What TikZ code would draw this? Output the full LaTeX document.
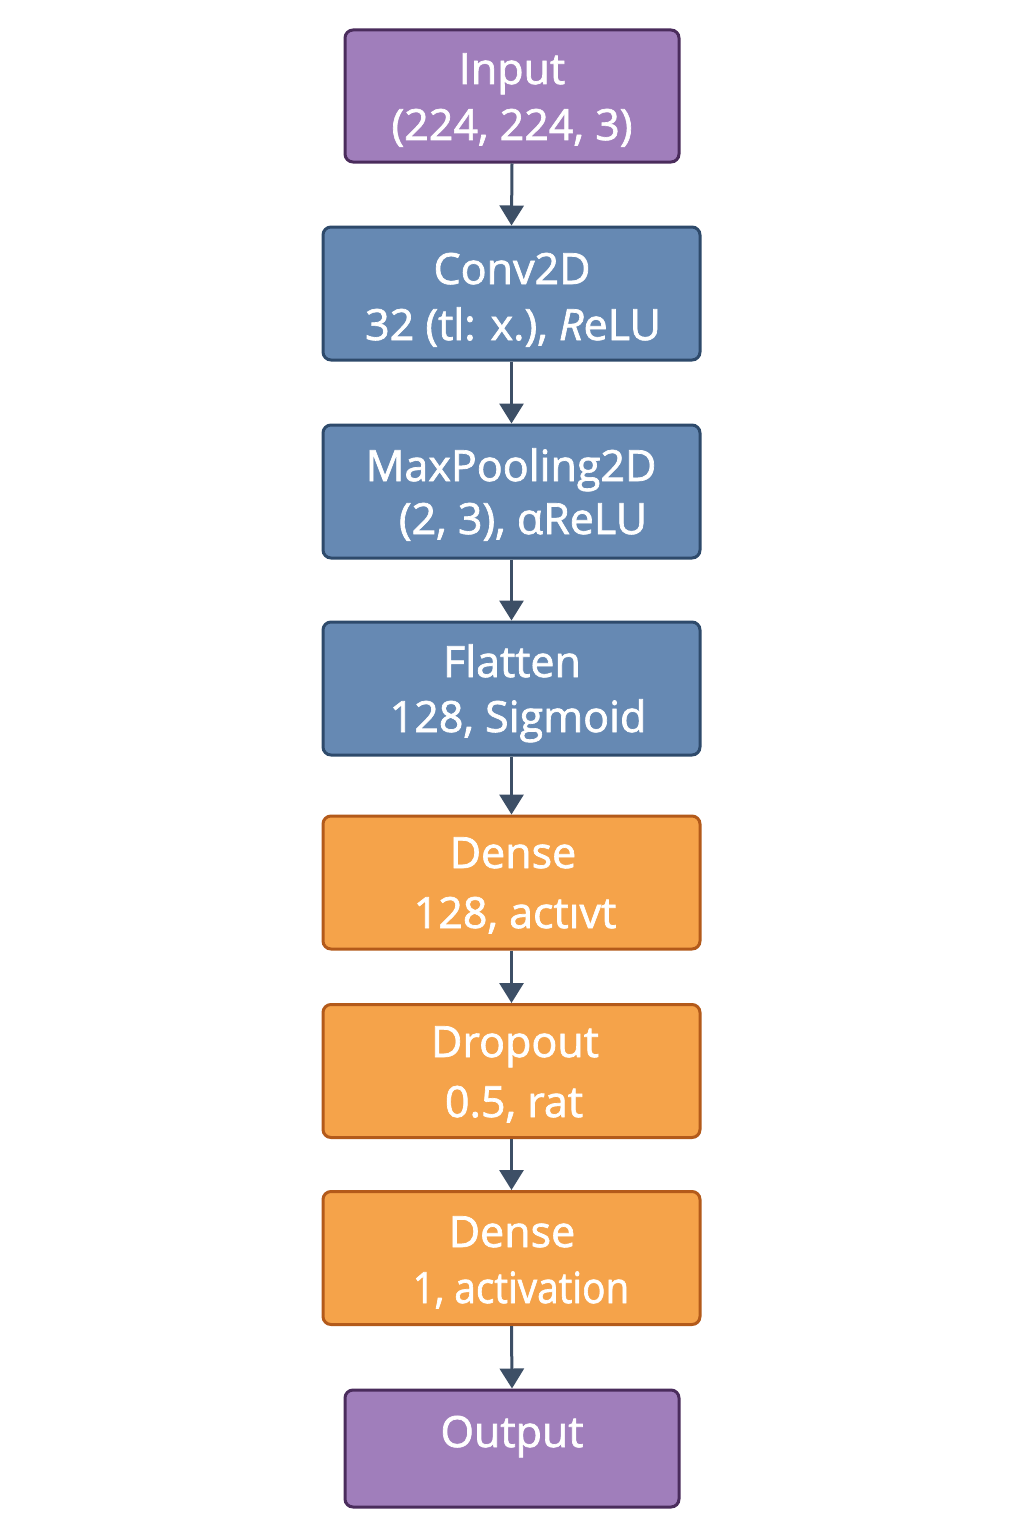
\documentclass[tikz,border=0pt]{standalone}
\usepackage{fontspec}
\setmainfont{Open Sans}
\newfontfamily\lblfont{Open Sans}[FakeBold=1.6]
\usetikzlibrary{arrows.meta}
\definecolor{purpfill}{HTML}{A07EBB}
\definecolor{purpline}{HTML}{4A2C5C}
\definecolor{bluefill}{HTML}{6689B3}
\definecolor{blueline}{HTML}{2E4A6B}
\definecolor{orfill}{HTML}{F5A34A}
\definecolor{orline}{HTML}{B35A1A}
\definecolor{arrowcol}{HTML}{3D4F66}
\tikzset{
  layer/.style={draw, line width=1.5pt, rounded corners=4pt, inner sep=0pt},
  wide/.style={layer, minimum width=188.5pt},
  narrow/.style={layer, minimum width=167pt},
  purplebox/.style={narrow, fill=purpfill, draw=purpline, minimum height=66pt},
  bluebox/.style={wide, fill=bluefill, draw=blueline, minimum height=66.5pt},
  orangebox/.style={wide, fill=orfill, draw=orline, minimum height=66.5pt},
  txt/.style={text=white, font=\lblfont\fontsize{21.5}{26}\selectfont, inner sep=0pt, anchor=base},
  flow/.style={draw=arrowcol, line width=1.5pt, -{Triangle[width=12pt,length=10pt]}}
}
\begin{document}
\begin{tikzpicture}[x=0.5pt,y=-0.5pt]
\fill[white] (0,0) rectangle (1024,1536);
% layer boxes
\node[purplebox] (inp) at (512,96) {};
\node[bluebox] (conv) at (511.5,293.5) {};
\node[bluebox] (pool) at (511.5,491.5) {};
\node[bluebox] (flat) at (511.5,688.5) {};
\node[orangebox] (dense1) at (511.5,882.5) {};
\node[orangebox] (drop) at (511.5,1071) {};
\node[orangebox] (dense2) at (511.5,1258) {};
\node[purplebox, minimum height=58.5pt] (out) at (512,1448.5) {};
% labels (placed on their baselines)
\node[txt] (t1a) at (512,84) {Input};
\node[txt] (t1b) at (512,140) {(224, 224, 3)};
\node[txt] (t2a) at (512,284) {Conv2D};
\node[txt] (t2b) at (513,340) {32 (tl: x.), \textit{R}eLU};
\node[txt] (t3a) at (511,481) {MaxPooling2D};
\node[txt] (t3b) at (523,534) {(2, 3), αReLU};
\node[txt] (t4a) at (512,677) {Flatten};
\node[txt] (t4b) at (518,732) {128, Sigmoid};
\node[txt] (t5a) at (513,868) {Dense};
\node[txt] (t5b) at (515,928) {128, actıvt};
\node[txt] (t6a) at (515,1057) {Dropout};
\node[txt] (t6b) at (514,1117) {0.5, rat};
\node[txt] (t7a) at (512,1247) {Dense};
\node[txt, xscale=0.9] (t7b) at (521,1303) {1, activation};
\node[txt] (t8a) at (512,1447) {Output};
% connectors
\draw[flow] (inp.south) -- (conv.north);
\draw[flow] (conv.south) -- (pool.north);
\draw[flow] (pool.south) -- (flat.north);
\draw[flow] (flat.south) -- (dense1.north);
\draw[flow] (dense1.south) -- (drop.north);
\draw[flow] (drop.south) -- (dense2.north);
\draw[flow] (dense2.south) -- (out.north);
\end{tikzpicture}
\end{document}
